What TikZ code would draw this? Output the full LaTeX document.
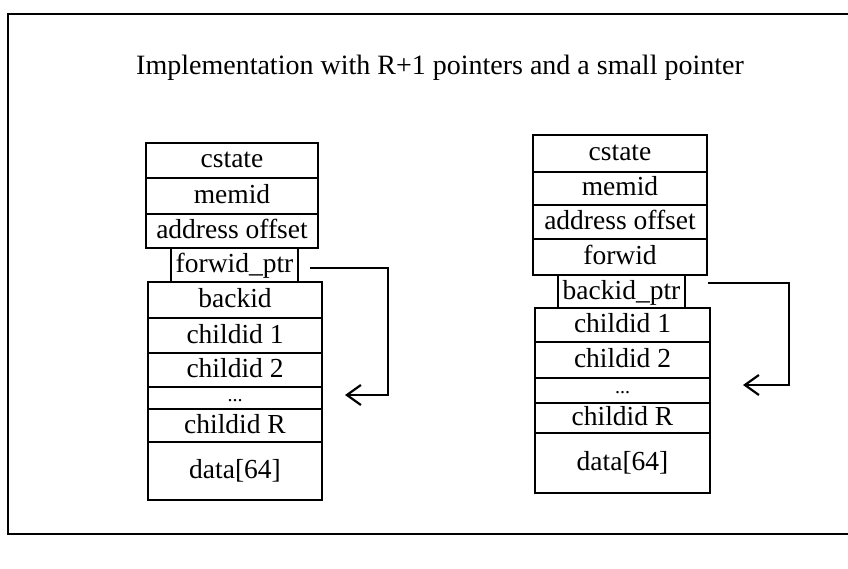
\documentclass[tikz,border=0pt]{standalone}
\usepackage{fontspec}
\setmainfont{Liberation Serif}
\usetikzlibrary{arrows.meta}

% one cell of a memory record, given by its corners (x1,y1) and (x2,y2)
\newcommand\memcell[6][]{%
  \pgfmathsetmacro\cellcx{(#3+#5)/2}%
  \pgfmathsetmacro\cellcy{(#4+#6)/2}%
  \pgfmathsetmacro\cellw{#5-#3}%
  \pgfmathsetmacro\cellh{#6-#4}%
  \node[cellbox,#1,minimum width=\cellw pt,minimum height=\cellh pt] (#2) at (\cellcx,\cellcy)}

\tikzset{
  cellbox/.style={draw, line width=2.2pt, inner sep=0pt, outer sep=0pt,
    font=\fontsize{27.5}{30}\selectfont, text height=18pt, text depth=3pt},
  dotrow/.style={font=\fontsize{20}{22}\selectfont, text height=6pt, text depth=0pt},
  frameline/.style={line width=2.2pt},
  ptr/.style={line width=2.2pt, -{Straight Barb[length=14pt,width=20pt,line width=2.2pt]}},
  titletext/.style={font=\fontsize{28}{32}\selectfont, inner sep=0pt}
}

\begin{document}
\begin{tikzpicture}[x=1pt,y=-1pt]
  \useasboundingbox (0,0) rectangle (848,569);

  % outer frame (its right side runs off the page)
  \draw[frameline] (848,14) -- (8,14) -- (8,534) -- (848,534);

  \node[titletext] (title) at (440,68) {Implementation with R+1 pointers and a small pointer};

  % left record: forward pointer
  \memcell{lcs}{146}{143}{318}{178}{cstate};
  \memcell{lmem}{146}{178}{318}{214}{memid};
  \memcell{laddr}{146}{214}{318}{248}{address offset};
  \memcell{lfptr}{171}{248}{298}{282}{forwid\_ptr};
  \memcell{lback}{148}{282}{322}{318}{backid};
  \memcell{lc1}{148}{318}{322}{353}{childid 1};
  \memcell{lc2}{148}{353}{322}{387}{childid 2};
  \memcell[dotrow]{ldots}{148}{387}{322}{409}{...};
  \memcell{lcr}{148}{409}{322}{442}{childid R};
  \memcell{ldata}{148}{442}{322}{500}{data[64]};

  \coordinate (lstart) at (310,268);
  \coordinate (lturn) at (388,268);
  \coordinate (lend) at (345,395);
  \draw[ptr] (lstart) -- (lturn) |- (lend);

  % right record: backward pointer
  \memcell{rcs}{533}{135}{707}{172}{cstate};
  \memcell{rmem}{533}{172}{707}{205}{memid};
  \memcell{raddr}{533}{205}{707}{239}{address offset};
  \memcell{rfw}{533}{239}{707}{275}{forwid};
  \memcell{rbptr}{558}{275}{685}{308}{backid\_ptr};
  \memcell{rc1}{535}{308}{710}{342}{childid 1};
  \memcell{rc2}{535}{342}{710}{378}{childid 2};
  \memcell[dotrow]{rdots}{535}{378}{710}{403}{...};
  \memcell{rcr}{535}{403}{710}{433}{childid R};
  \memcell{rdata}{535}{433}{710}{493}{data[64]};

  \coordinate (rstart) at (708,283);
  \coordinate (rturn) at (789,283);
  \coordinate (rend) at (743,385);
  \draw[ptr] (rstart) -- (rturn) |- (rend);
\end{tikzpicture}
\end{document}
